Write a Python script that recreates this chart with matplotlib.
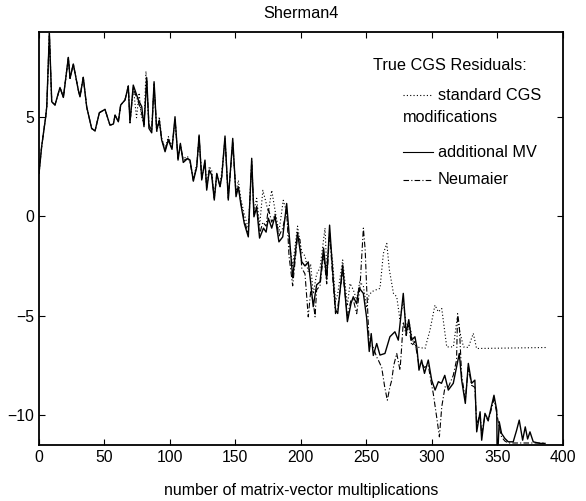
import matplotlib.pyplot as plt

plt.rcParams['font.family'] = ['Liberation Sans', 'DejaVu Sans']
plt.rcParams['font.size'] = 11.5

# common start of all three runs (curves coincide here)
mv_head = [0, 2.0, 5.1, 5.9, 7.9, 9.7, 12.2, 16.0, 18.6, 22.4, 23.7, 26.2, 30.0, 31.3,
           33.8, 36.4, 40.2, 42.8, 46.1, 50.4, 54.2, 56.8, 58.1, 60.6, 62.4, 65.7,
           68.2, 69.5]
res_head = [2.15, 3.5, 5.0, 5.5, 9.19, 5.75, 5.59, 6.47, 5.97, 7.98, 6.93, 7.65, 6.34, 6.0,
            6.98, 5.5, 4.41, 4.29, 5.2, 5.37, 4.58, 4.63, 5.08, 4.75, 5.59, 5.84,
            6.54, 4.7]

# additional MV
mv_add = [72.0, 75.9, 78.5, 80.2, 82.3, 84.0, 86.1, 87.9, 89.9, 91.9, 93.7, 96.3, 98.8,
          101.6, 103.9, 106.2, 108.0, 110.2, 113.5, 115.4, 117.9, 120.5, 122.3, 124.3,
          126.8, 128.1, 130.1, 131.9, 133.9, 135.8, 138.3, 139.6, 142.1, 144.6, 148.0,
          150.5, 152.3, 154.1, 156.8, 159.9, 162.5, 164.2, 166.3, 168.5, 171.5, 173.5,
          175.2, 177.8, 180.3, 183.3, 186.2, 189.2, 193.8, 197.5, 200.7, 203.2, 205.7,
          207.5, 209.5, 212.1, 214.7, 217.4, 219.8, 222.0, 224.5, 226.5, 228.2, 232.0,
          235.6, 238.4, 240.1, 242.7, 244.5, 247.8, 250.3, 252.3, 253.8, 255.4, 258.0,
          260.5, 264.3, 268.1, 271.9, 274.5, 278.3, 280.5, 282.5, 284.7, 287.2, 288.7,
          290.3, 292.3, 294.5, 297.4, 300.0, 302.6, 305.1, 307.5, 310.0, 312.7, 316.5,
          319.0, 321.1, 322.9, 325.7, 328.0, 330.5, 333.0, 334.4, 337.0, 338.2, 340.7,
          343.2, 347.6, 349.7, 350.1, 351.6, 353.4, 355.9, 358.5, 362.3, 364.9, 366.9,
          369.5, 371.5, 373.3, 375.1, 377.6, 382.7, 386.6]
res_add = [6.59, 5.84, 5.5, 4.5, 6.96, 4.41, 4.19, 6.76, 4.3, 4.83, 3.83, 3.24, 3.83,
           3.36, 5.0, 2.82, 3.66, 2.7, 2.9, 2.82, 1.76, 2.48, 4.08, 1.82,
           2.82, 1.31, 2.32, 2.07, 0.81, 2.15, 1.48, 1.98, 4.03, 0.81, 3.91,
           0.98, 1.48, 0.64, -0.36, -1.04, 2.91, -0.03, 0.45, -1.1, -0.6, -0.8,
           -0.1, -0.6, 0.0, -1.29, -1.04, 0.64, -3.1, -0.82, -2.29, -2.5, -2.3,
           -3.3, -4.55, -3.45, -3.3, -1.6, -3.17, -0.45, -2.9, -4.7, -4.89, -2.46,
           -5.3, -4.38, -4.05, -4.4, -3.6, -3.88, -5.1, -6.8, -5.9, -7.0, -6.4,
           -6.98, -6.9, -6.06, -5.81, -6.23, -3.88, -5.89, -5.2, -6.23, -6.06, -6.6,
           -7.74, -7.23, -7.9, -7.23, -8.24, -8.74, -8.32, -8.4, -8.0, -8.74, -8.4,
           -7.57, -6.9, -8.24, -9.41, -7.4, -8.4, -8.24, -10.84, -9.83, -11.26, -9.91,
           -10.25, -9.0, -9.75, -12.5, -10.33, -10.92, -11.17, -11.34, -11.34, -10.76, -10.25,
           -11.26, -10.59, -11.2, -10.84, -11.34, -11.42, -11.42]

# standard CGS
mv_std = [72.0, 74.5, 76.5, 78.0, 80.2, 81.7, 84.0, 86.1, 87.9, 89.9, 91.9, 93.7, 96.3,
          98.8, 101.6, 103.9, 106.2, 108.0, 110.2, 113.5, 115.4, 117.9, 120.5, 122.3,
          124.3, 126.8, 128.1, 130.1, 131.9, 133.9, 135.8, 138.3, 139.6, 142.1, 144.6,
          148.0, 150.5, 152.3, 154.1, 156.8, 159.9, 162.5, 164.2, 166.3, 168.5, 171.0,
          173.0, 175.2, 177.8, 180.3, 183.3, 186.6, 189.2, 191.5, 193.8, 197.5, 200.7,
          203.2, 205.7, 207.5, 209.5, 212.1, 214.7, 218.5, 219.8, 222.0, 224.5, 226.5,
          228.2, 232.0, 235.6, 237.6, 240.1, 242.7, 245.0, 247.8, 250.3, 252.0, 254.1,
          256.7, 260.5, 263.1, 265.7, 267.7, 270.8, 273.3, 275.8, 278.3, 280.5, 283.0,
          285.0, 287.2, 291.0, 294.9, 298.7, 302.5, 305.1, 307.7, 311.5, 316.6, 319.6,
          321.8, 324.3, 328.0, 331.8, 334.3, 388.0]
res_std = [6.5, 4.95, 6.2, 5.1, 4.6, 7.28, 4.5, 4.3, 6.7, 4.2, 5.0, 3.9, 3.4,
           4.0, 3.5, 4.8, 3.0, 3.5, 2.9, 3.0, 2.7, 1.9, 2.6, 3.9,
           2.0, 2.6, 1.5, 2.5, 2.3, 1.0, 2.0, 1.6, 2.2, 3.8, 1.0,
           3.6, 1.2, 1.8, 0.9, 0.1, -0.6, 2.6, 0.3, 0.9, -0.5, 1.3,
           0.8, 0.2, 1.3, 0.3, -0.8, 0.8, 0.2, -1.5, -2.5, -0.5, -1.8,
           -2.0, -2.8, -2.4, -3.9, -2.9, -2.6, -0.6, -2.6, -1.0, -2.4, -4.3,
           -3.9, -2.2, -4.5, -3.38, -3.7, -4.2, -3.3, -3.5, -4.6, -4.0, -3.8,
           -3.72, -3.63, -1.87, -1.37, -2.71, -3.88, -4.05, -5.22, -4.2, -5.5, -5.4,
           -6.1, -6.57, -6.6, -6.65, -5.73, -4.47, -4.81, -4.64, -6.57, -6.57, -5.06,
           -5.89, -6.57, -6.6, -5.89, -6.65, -6.6]

# Neumaier
mv_neu = [72.0, 75.0, 78.0, 80.2, 82.3, 84.0, 86.1, 87.9, 89.9, 91.9, 93.7, 96.3, 98.8,
          101.6, 103.9, 106.2, 108.0, 110.2, 113.5, 115.4, 117.9, 120.5, 122.3, 124.3,
          126.8, 128.1, 130.1, 131.9, 133.9, 135.8, 138.3, 139.6, 142.1, 144.6, 148.0,
          150.5, 152.3, 154.1, 156.8, 159.9, 162.5, 164.2, 166.3, 168.5, 171.0, 173.5,
          175.2, 177.8, 180.3, 183.3, 186.2, 189.2, 191.0, 193.8, 197.5, 199.4, 200.7,
          203.2, 205.7, 207.5, 209.5, 210.9, 212.1, 214.7, 217.4, 219.8, 222.0, 224.5,
          226.5, 228.2, 232.0, 235.6, 238.4, 240.1, 242.7, 245.2, 247.8, 249.2, 250.3,
          252.3, 255.4, 257.9, 259.2, 261.8, 264.1, 266.1, 268.1, 269.5, 271.0, 273.3,
          275.8, 276.9, 278.3, 280.5, 282.5, 284.7, 287.2, 290.3, 292.3, 294.5, 297.4,
          299.5, 301.2, 303.8, 305.9, 307.7, 310.2, 312.7, 316.5, 319.0, 319.8, 321.1,
          322.9, 325.7, 328.0, 330.5, 333.0, 334.4, 337.0, 338.2, 340.7, 343.2, 347.6,
          349.7, 351.6, 353.4, 355.9, 358.5, 386.6]
res_neu = [6.4, 5.9, 5.3, 4.6, 6.8, 4.6, 4.3, 6.6, 4.4, 4.7, 3.9, 3.3, 3.9,
           3.4, 4.9, 2.9, 3.6, 2.8, 2.9, 2.7, 1.8, 2.5, 4.0, 1.9,
           2.7, 1.4, 2.3, 2.1, 0.9, 2.1, 1.5, 2.0, 3.9, 0.9, 3.7,
           1.1, 1.5, 0.7, -0.2, -0.9, 2.8, 0.1, 0.5, -0.9, -0.3, -0.5,
           0.4, -0.3, 0.1, -1.0, -0.6, 0.3, -2.0, -3.5, -1.0, -1.2, -2.6,
           -2.9, -5.06, -3.8, -4.3, -5.06, -3.7, -3.5, -1.9, -3.4, -0.8, -3.2,
           -4.9, -4.6, -2.8, -5.0, -4.2, -4.2, -4.9, -3.6, -0.6, -1.7, -3.55,
           -6.5, -6.6, -7.07, -7.23, -7.6, -8.58, -9.25, -8.58, -8.24, -7.5, -6.9,
           -7.74, -6.73, -5.3, -6.0, -5.5, -6.5, -6.3, -7.5, -7.4, -7.6, -7.5,
           -8.3, -8.91, -10.09, -11.09, -9.58, -8.58, -8.6, -8.0, -7.23, -4.9, -5.5,
           -8.0, -9.2, -7.6, -8.5, -8.6, -10.5, -9.9, -11.0, -10.0, -10.3, -9.2,
           -9.9, -10.6, -11.1, -11.3, -11.4, -11.4]

fig = plt.figure(figsize=(5.86, 5.01), dpi=100)
ax = fig.add_axes([0.0666, 0.1118, 0.8934, 0.8244])

ax.plot(mv_head + mv_std, res_head + res_std, color='black', lw=0.8, ls=(0, (1, 2)))
ax.plot(mv_head + mv_neu, res_head + res_neu, color='black', lw=0.8, ls=(0, (5, 2, 1, 2)))
ax.plot(mv_head + mv_add, res_head + res_add, color='black', lw=1.0)

ax.set_xlim(0, 400)
ax.set_ylim(-11.5, 9.26)
ax.set_xticks(range(0, 401, 50))
ax.set_yticks([-10, -5, 0, 5])
ax.tick_params(direction='in', top=True, right=True, length=4, width=0.8, labelsize=11.3)
for s in ax.spines.values():
    s.set_linewidth(1.3)

ax.set_title('Sherman4', fontsize=11.7, pad=10)
ax.set_xlabel('number of matrix-vector multiplications', fontsize=11.5, labelpad=13)

# hand-made legend in the upper right
tr = ax.transAxes
fs = 11.7
ax.text(0.638, 0.920, 'True CGS Residuals:', transform=tr, va='center', fontsize=fs)
ax.plot([0.695, 0.753], [0.847, 0.847], transform=tr, color='black', lw=0.8, ls=(0, (1, 2)))
ax.text(0.762, 0.847, 'standard CGS', transform=tr, va='center', fontsize=fs)
ax.text(0.695, 0.794, 'modifications', transform=tr, va='center', fontsize=fs)
ax.plot([0.695, 0.753], [0.709, 0.709], transform=tr, color='black', lw=0.8)
ax.text(0.762, 0.709, 'additional MV', transform=tr, va='center', fontsize=fs)
ax.plot([0.695, 0.753], [0.642, 0.642], transform=tr, color='black', lw=0.8, ls=(0, (5, 2, 1, 2)))
ax.text(0.762, 0.642, 'Neumaier', transform=tr, va='center', fontsize=fs)

fig.savefig('out.png', dpi=100)
